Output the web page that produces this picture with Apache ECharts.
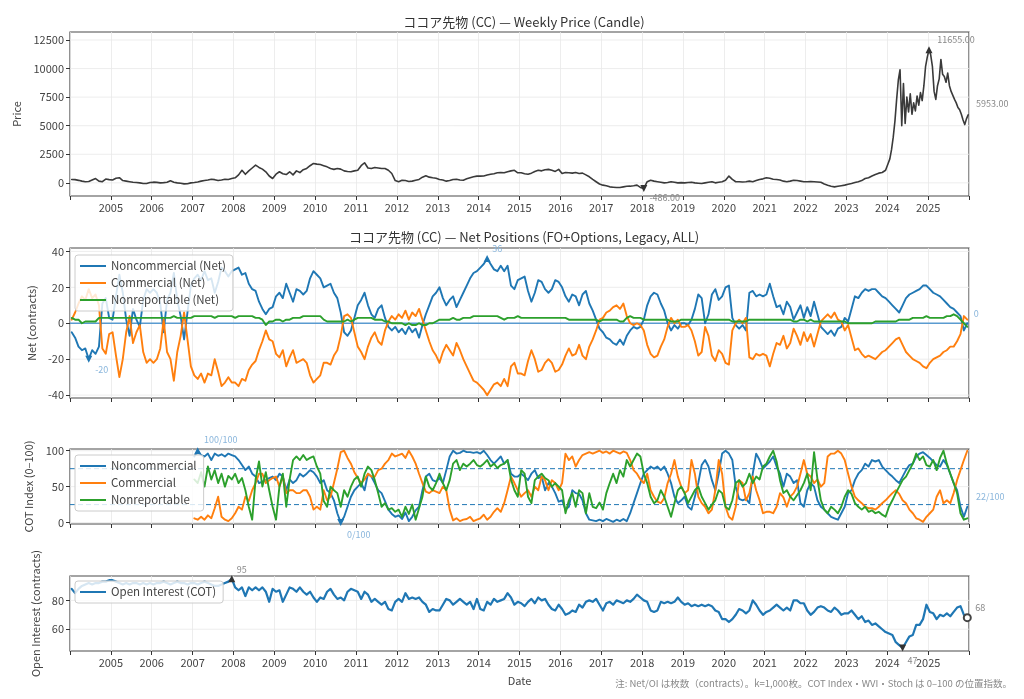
<!DOCTYPE html>
<html><head><meta charset="utf-8">
<script src="https://cdn.jsdelivr.net/npm/echarts@6/dist/echarts.min.js"></script>
<style>html,body{margin:0;padding:0;background:#fff}#c{width:1024px;height:699px}</style>
</head><body><div id="c"></div>
<script>
// ---------- DATA (monthly unless noted; thousands of contracts for Net / OI) ----------
const START_YEAR = 2004;
const xTickYears = [2005,2006,2007,2008,2009,2010,2011,2012,2013,2014,2015,2016,2017,2018,2019,2020,2021,2022,2023,2024,2025];
const priceTicks = [0,2500,5000,7500,10000,12500];
const netTicks = [-40,-20,0,20,40];
const cotTicks = [0,50,100];
const oiTicks = [60,80];
const cotBands = [25,75];

// price, Jan 2004 .. Dec 2023 (monthly)
const priceMonthly = [
300,280,220,150,100,120,250,380,150,100,330,280,
250,400,450,200,150,100,50,30,0,-50,-60,30,
60,40,0,20,50,180,60,0,-30,-90,-80,0,
30,80,150,200,250,320,280,200,250,320,300,380,
440,700,1100,750,1050,1300,1550,1350,1200,970,600,380,
760,970,800,730,970,700,1050,900,1150,1260,1500,1700,
1640,1600,1500,1400,1250,1180,1260,1200,1050,1000,970,1050,
1100,1500,1760,1300,1260,1350,1300,1250,1260,1100,820,200,
100,230,200,120,150,230,300,500,620,500,440,400,
300,250,150,200,300,320,250,230,350,450,530,590,
590,600,680,750,800,880,900,880,970,1050,1100,880,
880,800,760,850,1000,1100,1050,1150,1180,1100,1000,1180,
820,900,880,850,900,820,850,700,530,300,100,-100,
-200,-250,-350,-380,-410,-400,-350,-300,-290,-250,-200,-400,
-486,100,230,150,100,50,0,30,100,50,0,20,
0,30,60,0,-30,-60,0,50,100,0,50,100,
230,590,300,100,100,80,100,150,100,200,300,350,
440,400,320,300,250,150,100,150,230,200,150,100,
100,120,100,80,50,-100,-200,-290,-350,-300,-250,-200,
-120,-50,30,100,200,380,450,600,730,850,910,1100];
// price, Jan 2024 .. Dec 2025 (half-monthly)
const priceHalfMonthly = [
1700,2100,2900,4000,5400,7300,9000,9900,5000,8700,5200,7500,6200,7800,6000,7000,6300,7600,6800,7900,7200,8500,10200,11000,
11655,11200,10200,8000,7300,8500,9100,10800,9500,9300,8800,9600,8500,8000,7900,7300,7000,6600,6400,6000,5500,5100,5600,5953];

const netNoncomm = [
-5,-8,-13,-15,-14,-20,-15,-17,-13,11,14,3,
2,15,27,17,2,-7,8,2,-2,13,19,17,
19,17,11,-5,13,17,28,13,4,-9,6,21,
25,27,24,29,24,25,17,23,31,29,26,29,
30,31,27,28,22,19,18,12,8,5,8,9,
15,17,14,22,17,12,19,18,16,18,25,29,
27,25,20,21,22,17,14,6,-5,-7,-4,3,
10,13,17,10,5,3,8,10,3,-2,-4,-2,
-5,-3,-6,-2,-5,-3,-8,-1,5,10,15,17,
20,14,10,13,15,9,13,17,21,25,28,29,
31,33,36,33,30,29,32,29,32,21,19,24,
25,26,18,12,17,24,23,19,17,19,24,23,
20,15,12,16,15,10,16,18,11,7,2,-3,
-5,-8,-9,-11,-12,-9,-12,-7,-4,-2,-3,-2,
2,10,15,17,16,11,7,0,-4,-1,-3,0,
0,-1,2,8,16,14,0,5,16,19,13,15,
20,21,3,-1,-3,-1,-4,17,18,15,16,15,
16,22,15,9,10,5,12,9,2,6,10,3,
9,4,12,5,-2,-4,-6,-4,-7,-3,-2,3,
1,8,15,14,17,19,18,19,19,17,15,14,
12,10,8,6,10,14,16,17,18,19,21,21,
19,17,16,15,13,11,9,8,6,4,-4,0];
const netComm = [
2,6,11,15,13,19,14,16,10,-14,-17,-6,
-5,-18,-30,-20,-5,4,-11,-5,-1,-16,-22,-20,
-22,-20,-14,2,-16,-20,-32,-16,-7,6,-9,-24,
-29,-31,-28,-33,-28,-29,-20,-27,-35,-33,-30,-33,
-33,-35,-31,-32,-26,-23,-21,-15,-10,-4,-9,-10,
-17,-19,-15,-24,-19,-15,-22,-21,-20,-22,-29,-33,
-31,-29,-22,-22,-23,-18,-15,-7,4,5,3,-5,
-13,-16,-20,-13,-8,-5,-10,-12,-4,1,4,2,
5,3,7,2,6,4,8,2,-4,-10,-15,-18,
-22,-16,-12,-15,-18,-11,-15,-20,-24,-28,-32,-33,
-35,-37,-40,-37,-34,-33,-35,-31,-35,-24,-22,-28,
-28,-29,-21,-15,-20,-27,-26,-22,-20,-22,-27,-26,
-23,-18,-14,-18,-17,-12,-18,-20,-13,-9,-4,2,
3,6,7,9,10,8,11,4,0,-1,0,-1,
-4,-12,-17,-19,-18,-13,-9,-2,3,0,2,-2,
-2,-1,-4,-10,-18,-16,-2,-7,-18,-21,-15,-17,
-22,-23,-4,0,2,0,3,-19,-20,-17,-18,-17,
-18,-24,-17,-11,-12,-7,-14,-11,-3,-7,-12,-5,
-10,-6,-13,-6,1,3,5,3,6,2,1,-4,
-1,-8,-15,-14,-17,-19,-18,-19,-20,-18,-16,-15,
-13,-11,-9,-8,-12,-16,-18,-20,-21,-22,-24,-25,
-22,-20,-19,-18,-16,-15,-13,-13,-10,-6,4,2];
const netNonrep = [
3,2,2,0,1,1,1,1,3,3,3,3,
3,3,3,3,3,3,3,3,3,3,3,3,
3,3,3,3,3,3,4,3,3,3,3,3,
4,4,4,4,4,4,3,4,4,4,4,4,
3,4,4,4,4,4,3,3,2,-1,1,1,
2,2,1,2,2,3,3,3,4,4,4,4,
4,4,2,1,1,1,1,1,1,2,1,2,
3,3,3,3,3,2,2,2,1,1,0,0,
0,0,-1,0,-1,-1,0,-1,-1,0,0,1,
2,2,2,2,3,2,2,3,3,3,4,4,
4,4,4,4,4,4,3,2,3,3,3,4,
3,3,3,3,3,3,3,3,3,3,3,3,
3,3,2,2,2,2,2,2,2,2,2,1,
2,2,2,2,2,1,1,3,4,3,3,3,
2,2,2,2,2,2,2,2,1,1,1,2,
2,2,2,2,2,2,2,2,2,2,2,2,
2,2,1,1,1,1,1,2,2,2,2,2,
2,2,2,2,2,2,2,2,1,1,2,2,
1,2,1,1,1,1,1,1,1,1,1,1,
0,0,0,0,0,0,0,0,1,1,1,1,
1,1,1,2,2,2,2,3,3,3,3,4,
3,3,3,3,3,4,4,5,4,2,0,-2];

// COT Index, Jan 2007 .. Dec 2025 (monthly)
const COT_START_YEAR = 2007;
const cotNoncomm = [
92,100,94,92,96,87,96,93,95,92,96,94,
92,87,80,73,78,68,64,55,57,59,62,64,
59,68,64,45,60,55,59,68,64,68,73,70,
64,55,59,45,41,31,13,0,8,22,36,45,
50,55,45,68,64,55,45,41,30,18,12,8,
10,5,14,2,8,17,22,45,64,68,59,57,
62,55,73,92,100,96,97,100,98,98,97,98,
96,100,94,87,82,87,92,82,87,68,64,64,
68,64,59,68,73,62,64,45,55,50,41,29,
31,18,22,45,41,40,31,13,4,3,2,4,
2,5,3,1,4,2,5,2,13,27,41,55,
68,73,78,75,78,73,78,68,55,36,27,31,
36,22,18,36,55,80,87,78,59,45,68,96,
100,96,87,50,33,31,33,27,68,96,87,75,
80,85,92,78,68,50,68,64,55,59,27,22,
45,55,50,31,22,18,13,8,6,4,13,22,
41,45,59,68,73,82,78,87,85,87,78,73,
68,64,59,55,64,73,80,82,92,96,98,94,
90,85,80,78,87,80,68,55,45,22,8,22];
const cotComm = [
6,4,8,4,10,6,20,36,8,4,2,6,
13,22,18,36,30,45,55,68,68,55,59,62,
64,50,64,41,45,45,41,41,45,45,36,18,
22,18,45,31,36,55,75,98,100,90,82,70,
62,55,60,68,64,64,73,75,82,87,96,92,
94,96,90,100,92,82,68,55,43,41,45,43,
41,50,45,18,3,6,2,4,5,8,2,4,
6,11,4,8,15,20,15,27,45,64,55,45,
36,41,45,36,50,45,64,59,45,59,55,45,
55,96,87,92,78,87,94,96,98,96,98,100,
97,99,96,100,98,96,99,97,87,73,68,60,
55,68,45,36,29,27,34,55,68,87,64,50,
41,45,87,68,36,27,22,13,18,45,87,68,
22,8,4,22,59,55,31,41,64,45,31,13,
15,15,13,22,41,35,22,36,41,50,68,87,
68,64,55,60,50,55,92,96,96,100,96,87,
68,50,36,31,27,22,20,20,18,22,27,31,
36,41,45,40,31,27,18,13,6,4,1,8,
13,18,36,45,27,31,27,41,59,73,87,100];
const cotNonrep = [
60,55,70,50,78,60,73,55,68,50,65,60,
68,55,62,45,22,4,60,85,50,70,45,22,
4,50,68,22,60,87,92,87,94,87,90,92,
78,68,30,22,50,45,41,22,45,36,50,60,
64,50,68,78,73,59,41,22,27,18,20,15,
18,8,22,12,25,4,20,36,64,50,45,55,
68,55,45,59,82,87,73,82,78,82,87,80,
78,82,87,78,82,76,80,82,87,60,45,36,
73,68,36,27,59,64,68,62,59,50,55,50,
45,13,31,41,22,45,41,13,41,22,20,28,
18,41,55,68,55,73,64,87,78,87,96,92,
68,55,36,27,31,45,36,22,8,27,45,50,
41,27,36,45,50,36,27,18,25,31,45,41,
22,18,31,55,59,50,55,68,55,64,60,78,
82,92,100,85,59,41,45,36,31,38,45,55,
68,45,98,60,31,18,13,22,18,13,22,36,
45,40,27,22,18,22,15,17,13,15,11,8,
22,31,41,50,59,64,73,82,96,87,92,80,
78,87,73,90,100,82,68,55,41,13,4,6];

// Open interest (thousands of contracts), Jan 2004 .. Dec 2025 (monthly)
const openInterest = [
88,85,88,90,91,92,91,92,92,93,93,94,
94,93,92,91,92,91,92,92,91,92,91,92,
91,92,92,93,92,91,92,93,92,92,91,92,
92,91,92,93,92,91,90,90,91,92,93,95,
89,87,89,83,89,87,89,87,89,86,79,88,
86,87,79,84,89,88,86,89,86,84,86,82,
79,82,81,86,88,84,81,82,80,86,88,87,
86,81,86,84,79,81,79,77,79,74,73,79,
81,79,85,81,82,81,82,79,77,72,74,73,
73,77,81,80,77,79,81,79,77,79,74,81,
74,73,79,77,81,79,80,81,85,82,77,79,
78,76,79,81,78,82,80,81,77,74,73,77,
74,70,71,73,72,77,75,79,80,79,81,77,
73,78,79,77,80,79,78,80,79,81,84,82,
80,79,73,72,73,79,78,79,78,79,82,79,
77,78,76,77,76,77,76,77,76,73,72,67,
67,65,67,70,74,73,71,73,80,77,73,70,
72,73,75,77,75,73,75,73,80,80,78,78,
73,70,72,75,76,75,73,72,75,73,70,71,
71,73,70,67,69,65,66,63,64,62,60,58,
57,56,51,49,47,51,55,56,63,63,67,77,
72,71,67,70,69,71,69,72,75,76,70,68];

// ---------- BUILD ----------
const BLUE='#1f77b4', ORANGE='#ff7f0e', GREEN='#2ca02c';
const FONT='"Noto Sans CJK JP","Noto Sans",sans-serif';
function monthT(i, y0){ return y0 + (i + 0.5) / 12; }
function toPairs(vals, y0){ return vals.map((v,i)=>[monthT(i,y0), v]); }
const priceData = toPairs(priceMonthly, START_YEAR)
  .concat(priceHalfMonthly.map((v,j)=>[2024 + (j + 0.5)/24, v]));
function argExt(d, sign){ let k=0; d.forEach((p,i)=>{ if(sign*(p[1]-d[k][1])>0) k=i; }); return k; }
function mark(p, text, dx, dy, o){
  return { coord:[p[0],p[1]], value:p[1],
    symbol:o.symbol||'circle', symbolSize:o.size||7, symbolRotate:o.rot||0,
    itemStyle:o.item||{color:'rgba(0,0,0,0)'},
    label:{show:true, formatter:text, position:'inside', offset:[dx,dy], color:o.lc, fontSize:9, fontFamily:FONT} };
}
function annot(d, fmt, cfg){
  const iM=argExt(d,1), im=argExt(d,-1), last=d[d.length-1];
  const out=[];
  out.push(mark(d[iM], fmt(d[iM][1]), cfg.max[0], cfg.max[1], {symbol:'triangle', size:7, item:{color:cfg.mc}, lc:cfg.lc}));
  out.push(mark(d[im], fmt(d[im][1]), cfg.min[0], cfg.min[1], {symbol:'triangle', rot:180, size:7, item:{color:cfg.mc}, lc:cfg.lc}));
  out.push(mark(last, fmt(last[1]), cfg.last[0], cfg.last[1], cfg.lastSym?{symbol:'emptyCircle', size:7, item:{color:'#444', borderWidth:1.3}, lc:cfg.lc}:{lc:cfg.lc}));
  return {symbolKeepAspect:true, data:out, z:6, silent:true};
}

const grids = [
  {left:70, top:32, width:899, height:164},
  {left:70, top:248, width:899, height:150},
  {left:70, top:449, width:899, height:75},
  {left:70, top:576, width:899, height:75}
].map(g=>Object.assign(g,{show:true, borderColor:'#4a4a4a', borderWidth:1.2, backgroundColor:'transparent'}));

const HIDDEN_LINE = {show:false, onZero:false, lineStyle:{color:'rgba(0,0,0,0)', width:0}};
const xAxes = [0,1,2,3].map(i=>({
  type:'value', gridIndex:i, min:2004, max:2026, interval:1,
  axisLine:HIDDEN_LINE,
  axisTick:{show:true, length:4, lineStyle:{color:'#333'}},
  splitLine:{show:true, lineStyle:{color:'#e8e8e8', width:0.8}},
  axisLabel:{show:(i===0||i===3), color:'#444', fontSize:11, fontFamily:FONT, margin:6,
    formatter:v=> xTickYears.indexOf(Math.round(v))>=0 ? String(Math.round(v)) : ''},
  name: i===3?'Date':'', nameLocation:'middle', nameGap:24,
  nameTextStyle:{color:'#444', fontSize:11, fontFamily:FONT}
}));

const yDefs = [
  {min:-1150, max:13200, ticks:priceTicks, name:'Price', gap:43},
  {min:-41.6, max:41.9, ticks:netTicks, name:'Net (contracts)', gap:31},
  {min:-2, max:102.4, ticks:cotTicks, name:'COT Index (0–100)', gap:31},
  {min:44.9, max:96.9, ticks:oiTicks, name:'Open Interest (contracts)', gap:26}
];
const yAxes = yDefs.map((d,i)=>({
  type:'value', gridIndex:i, min:d.min, max:d.max,
  axisLine:HIDDEN_LINE,
  axisTick:{show:true, length:4, lineStyle:{color:'#333'}, customValues:d.ticks},
  axisLabel:{color:'#444', fontSize:11, fontFamily:FONT, margin:6, customValues:d.ticks,
    formatter:v=>String(Math.round(v))},
  splitLine:{show:false},
  name:d.name, nameLocation:'middle', nameGap:d.gap, nameRotate:90,
  nameTextStyle:{color:'#444', fontSize:11, fontFamily:FONT}
}));

// horizontal reference lines as plain line series spanning the axis range
function hLine(i, y, color, width, type, z){
  return {type:'line', xAxisIndex:i, yAxisIndex:i, z, silent:true, showSymbol:false, animation:false,
    data:[[2004,y],[2026,y]], lineStyle:{color, width, type}, tooltip:{show:false}};
}
const refLines = [];
yDefs.forEach((d,i)=>d.ticks.forEach(v=>{ if(!(i===1 && v===0)) refLines.push(hLine(i, v, '#e8e8e8', 0.8, 'solid', 1)); }));
refLines.push(hLine(1, 0, '#5a9bd0', 1.5, 'solid', 2));
cotBands.forEach(v=>refLines.push(hLine(2, v, BLUE, 1, [5,3], 2)));

const LBLUE='#8ab6dc';
const netN = toPairs(netNoncomm, START_YEAR);
const cotN = toPairs(cotNoncomm, COT_START_YEAR);
const oiD = toPairs(openInterest, START_YEAR);

function lineS(name, i, data, color, w, extra){
  return Object.assign({type:'line', name, xAxisIndex:i, yAxisIndex:i, data, showSymbol:false, z:3,
    connectNulls:true, smooth:false,
    lineStyle:{color, width:w, join:'round', cap:'round'}, itemStyle:{color}, animation:false}, extra||{});
}

const series = refLines.concat([
  lineS('Price',0,priceData,'#3a3a3a',1.6,{
    markPoint: annot(priceData, v=>v.toFixed(2),
      {max:[27,-10], min:[21,9], last:[24,-11], mc:'#333', lc:'#888'})}),
  lineS('Noncommercial (Net)',1,netN,BLUE,1.9,{
    markPoint: annot(netN, v=>String(Math.round(v)),
      {max:[10,-10], min:[13,10], last:[9,-10], mc:BLUE, lc:LBLUE})}),
  lineS('Commercial (Net)',1,toPairs(netComm,START_YEAR),ORANGE,1.9),
  lineS('Nonreportable (Net)',1,toPairs(netNonrep,START_YEAR),GREEN,1.9),
  lineS('Noncommercial',2,cotN,BLUE,1.9,{
    markPoint: annot(cotN, v=>Math.round(v)+'/100',
      {max:[23,-11], min:[18,12], last:[23,-10], mc:BLUE, lc:LBLUE})}),
  lineS('Commercial',2,toPairs(cotComm,COT_START_YEAR),ORANGE,1.9),
  lineS('Nonreportable',2,toPairs(cotNonrep,COT_START_YEAR),GREEN,1.9),
  lineS('Open Interest (COT)',3,oiD,BLUE,2.2,{
    markPoint: annot(oiD, v=>String(Math.round(v)),
      {max:[10,-9], min:[10,13], last:[13,-10], mc:'#333', lc:'#888', lastSym:true})})
]);

function legendAt(top, names){
  return {top, left:75, z:20, orient:'vertical', data:names, icon:'rect', itemWidth:26, itemHeight:2,
    itemGap:3, padding:[4,7,4,5], backgroundColor:'rgba(255,255,255,0.82)', borderColor:'#cccccc',
    borderWidth:1, borderRadius:3, selectedMode:false,
    textStyle:{color:'#444', fontSize:11.5, fontFamily:FONT, lineHeight:14}};
}

const option = {
  backgroundColor:'#fff',
  animation:false,
  textStyle:{fontFamily:FONT},
  title:[
    {text:'ココア先物 (CC) — Weekly Price (Candle)', left:519, top:11, textAlign:'center',
      textStyle:{fontSize:13, fontWeight:'normal', color:'#333', fontFamily:FONT}},
    {text:'ココア先物 (CC) — Net Positions (FO+Options, Legacy, ALL)', left:519, top:226, textAlign:'center',
      textStyle:{fontSize:13, fontWeight:'normal', color:'#333', fontFamily:FONT}}
  ],
  legend:[
    legendAt(255, ['Noncommercial (Net)','Commercial (Net)','Nonreportable (Net)']),
    legendAt(455, ['Noncommercial','Commercial','Nonreportable']),
    legendAt(581, ['Open Interest (COT)'])
  ],
  grid:grids, xAxis:xAxes, yAxis:yAxes, series,
  graphic:[{type:'text', right:12, top:679, z:10,
    style:{text:'注: Net/OI は枚数（contracts）。k=1,000枚。COT Index・WVI・Stoch は 0–100 の位置指数。',
      fill:'#888', fontSize:9.5, fontFamily:FONT}}]
};
const chart = echarts.init(document.getElementById('c'), null, {renderer:'canvas'});
chart.setOption(option);
</script></body></html>
